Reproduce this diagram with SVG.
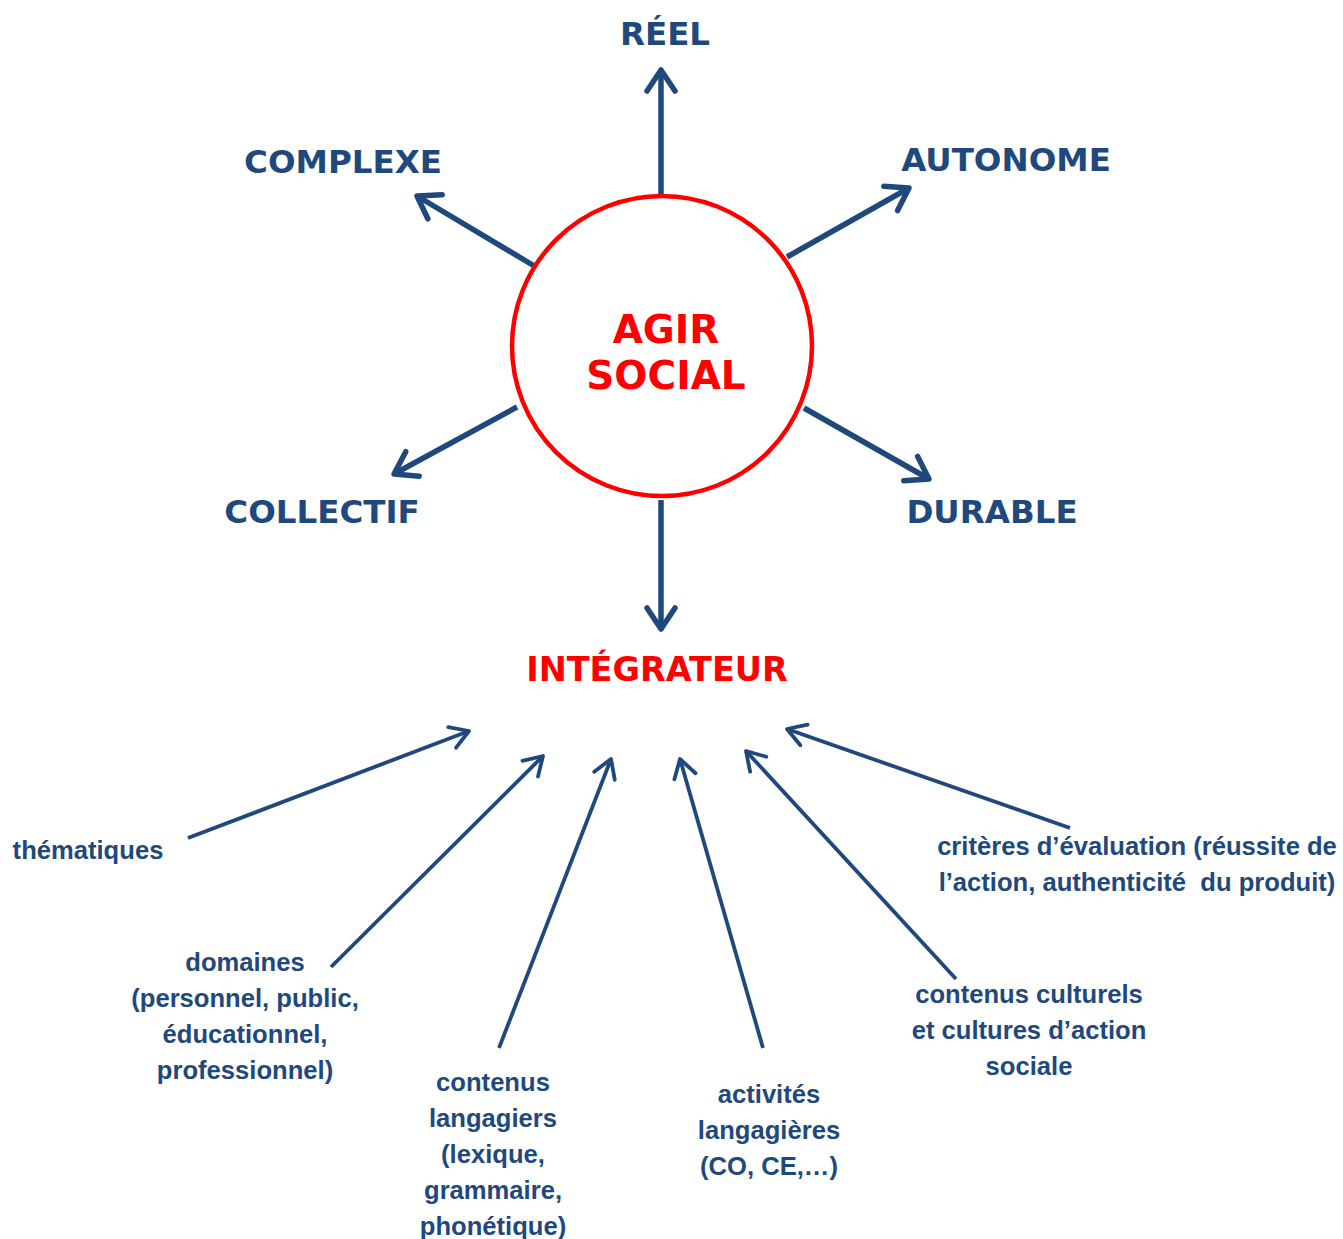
<svg xmlns="http://www.w3.org/2000/svg" width="1343" height="1239" viewBox="0 0 1343 1239">
<defs>
<style>
.t{font-family:"DejaVu Sans",Verdana,sans-serif;font-weight:bold;fill:#1f497d;}
.r{font-family:"DejaVu Sans",Verdana,sans-serif;font-weight:bold;fill:#ff0000;}
.s{font-family:"Liberation Sans",Arial,sans-serif;font-weight:bold;fill:#1f497d;font-size:25.6px;text-anchor:middle;}
.big{stroke:#1f497d;stroke-width:5.5;fill:none;marker-end:url(#hb);}
.sm{stroke:#1f497d;stroke-width:3.8;fill:none;marker-end:url(#hs);}
</style>
<marker id="hb" markerUnits="userSpaceOnUse" viewBox="-30 -20 36 40" refX="0" refY="0" markerWidth="36" markerHeight="40" orient="auto" overflow="visible">
<path d="M-21,-14 L0,0 L-21,14" fill="none" stroke="#1f497d" stroke-width="5.5" stroke-linecap="round" stroke-linejoin="round"/>
</marker>
<marker id="hs" markerUnits="userSpaceOnUse" viewBox="-30 -20 36 40" refX="0" refY="0" markerWidth="36" markerHeight="40" orient="auto" overflow="visible">
<path d="M-18,-11 L0,0 L-18,11" fill="none" stroke="#1f497d" stroke-width="3.8" stroke-linecap="round" stroke-linejoin="round"/>
</marker>
</defs>
<rect width="1343" height="1239" fill="#ffffff"/>
<g id="connectors">
<line class="big" x1="661" y1="195" x2="661" y2="70"/>
<line class="big" x1="536" y1="267" x2="417" y2="196"/>
<line class="big" x1="787" y1="257" x2="909" y2="188"/>
<line class="big" x1="517" y1="407" x2="394" y2="474"/>
<line class="big" x1="804" y1="408" x2="929" y2="479"/>
<line class="big" x1="661" y1="500" x2="661" y2="629"/>
<line class="sm" x1="188" y1="838" x2="469" y2="731"/>
<line class="sm" x1="331" y1="967" x2="543" y2="756"/>
<line class="sm" x1="499" y1="1048" x2="611" y2="759"/>
<line class="sm" x1="763" y1="1048" x2="680" y2="759"/>
<line class="sm" x1="956" y1="979" x2="746" y2="751"/>
<line class="sm" x1="1070" y1="828" x2="787" y2="729"/>
</g>
<g id="agir">
<circle cx="662" cy="346" r="150" fill="none" stroke="#ff0000" stroke-width="4.5"/>
<text class="r" x="666" y="343" font-size="39" text-anchor="middle">AGIR</text>
<text class="r" x="666" y="389" font-size="39" text-anchor="middle">SOCIAL</text>
</g>
<g id="reel"><text class="t" x="665" y="45" font-size="32.5" text-anchor="middle">RÉEL</text></g>
<g id="complexe"><text class="t" x="343" y="173" font-size="32.5" text-anchor="middle">COMPLEXE</text></g>
<g id="autonome"><text class="t" x="1006" y="171" font-size="32.5" text-anchor="middle">AUTONOME</text></g>
<g id="collectif"><text class="t" x="322" y="523" font-size="32.5" text-anchor="middle">COLLECTIF</text></g>
<g id="durable"><text class="t" x="992" y="523" font-size="32.5" text-anchor="middle">DURABLE</text></g>
<g id="integrateur"><text class="r" x="657" y="681" font-size="33.5" text-anchor="middle">INTÉGRATEUR</text></g>
<g id="thematiques"><text class="s" x="88" y="859">thématiques</text></g>
<g id="domaines">
<text class="s" x="245" y="971">domaines</text>
<text class="s" x="245" y="1007">(personnel, public,</text>
<text class="s" x="245" y="1043">éducationnel,</text>
<text class="s" x="245" y="1079">professionnel)</text>
</g>
<g id="contenus-langagiers">
<text class="s" x="493" y="1091">contenus</text>
<text class="s" x="493" y="1127">langagiers</text>
<text class="s" x="493" y="1163">(lexique,</text>
<text class="s" x="493" y="1199">grammaire,</text>
<text class="s" x="493" y="1235">phonétique)</text>
</g>
<g id="activites">
<text class="s" x="769" y="1103">activités</text>
<text class="s" x="769" y="1139">langagières</text>
<text class="s" x="769" y="1175">(CO, CE,…)</text>
</g>
<g id="contenus-culturels">
<text class="s" x="1029" y="1003">contenus culturels</text>
<text class="s" x="1029" y="1039">et cultures d’action</text>
<text class="s" x="1029" y="1075">sociale</text>
</g>
<g id="criteres">
<text class="s" x="1137" y="855">critères d’évaluation (réussite de</text>
<text class="s" x="1137" y="891" xml:space="preserve">l’action, authenticité  du produit)</text>
</g>
</svg>
